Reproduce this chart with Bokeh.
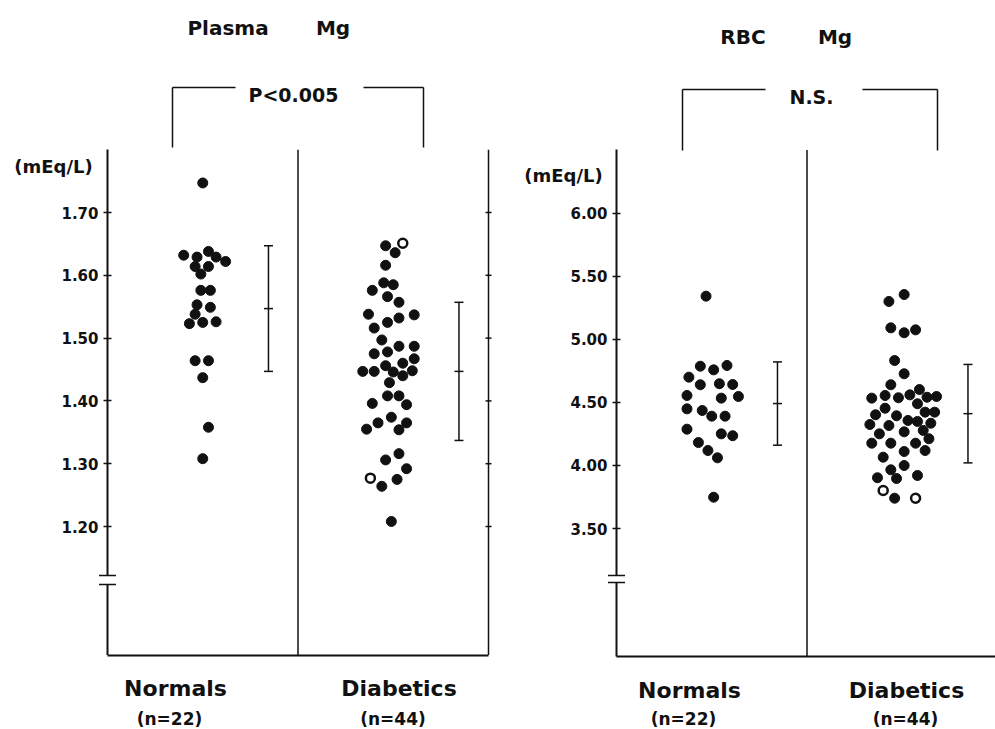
from bokeh.plotting import figure
from bokeh.models import (LinearAxis, FixedTicker, Range1d, NumeralTickFormatter,
                          CustomJSTickFormatter)
from bokeh.core.properties import value
from bokeh.layouts import row
from bokeh.embed import file_html
from bokeh.resources import INLINE

# ---------------- data ----------------
groups = ["Normals", "Diabetics"]
group_n = ["(n=22)", "(n=44)"]
unit_label = "(mEq/L)"
plasma_title = ["Plasma", "Mg"]
rbc_title = ["RBC", "Mg"]
plasma_p = "P<0.005"
rbc_p = "N.S."

plasma_ticks = [1.20, 1.30, 1.40, 1.50, 1.60, 1.70]
rbc_ticks = [3.50, 4.00, 4.50, 5.00, 5.50, 6.00]

plasma_normals = [1.747, 1.632, 1.638, 1.629, 1.629, 1.622, 1.614, 1.614, 1.602, 1.576, 1.576,
                  1.553, 1.549, 1.538, 1.523, 1.525, 1.526, 1.464, 1.464, 1.437, 1.358, 1.308]
plasma_normals_jitter = [0.00, -0.10, 0.03, -0.03, 0.07, 0.12, -0.04, 0.03, -0.01, -0.01, 0.04,
                         -0.03, 0.04, -0.04, -0.07, 0.00, 0.07, -0.04, 0.03, 0.00, 0.03, 0.00]
plasma_diabetics = [1.647, 1.651, 1.636, 1.616, 1.588, 1.585, 1.576, 1.566, 1.557, 1.538, 1.537,
                    1.532, 1.525, 1.516, 1.497, 1.487, 1.487, 1.475, 1.478, 1.467, 1.460, 1.456,
                    1.447, 1.447, 1.446, 1.440, 1.448, 1.429, 1.408, 1.408, 1.396, 1.394, 1.374,
                    1.365, 1.365, 1.355, 1.354, 1.316, 1.306, 1.292, 1.277, 1.264, 1.275, 1.208]
plasma_diabetics_jitter = [-0.04, 0.05, 0.01, -0.04, -0.05, 0.00, -0.11, -0.03, 0.03, -0.13, 0.11,
                           0.03, -0.03, -0.10, -0.06, 0.03, 0.11, -0.10, -0.03, 0.11, 0.05, -0.04,
                           -0.16, -0.10, 0.00, 0.05, 0.10, -0.02, -0.03, 0.03, -0.11, 0.07, -0.01,
                           -0.08, 0.07, -0.14, 0.03, 0.03, -0.04, 0.07, -0.12, -0.06, 0.02, -0.01]
plasma_diabetics_open = [1, 40]
plasma_mean = [1.547, 1.447]
plasma_sd = [0.100, 0.110]

rbc_normals = [5.341, 4.786, 4.757, 4.792, 4.699, 4.639, 4.647, 4.641, 4.554, 4.533, 4.546,
               4.448, 4.435, 4.390, 4.390, 4.287, 4.250, 4.235, 4.181, 4.118, 4.060, 3.748]
rbc_normals_jitter = [-0.03, -0.06, 0.01, 0.08, -0.12, -0.06, 0.04, 0.11, -0.13, 0.05, 0.14,
                      -0.13, -0.05, 0.00, 0.07, -0.13, 0.05, 0.11, -0.07, -0.02, 0.03, 0.01]
rbc_diabetics = [5.299, 5.354, 5.090, 5.051, 5.074, 4.831, 4.726, 4.639, 4.533, 4.554, 4.536,
                 4.559, 4.601, 4.540, 4.546, 4.488, 4.453, 4.401, 4.393, 4.422, 4.422, 4.324,
                 4.316, 4.356, 4.348, 4.334, 4.250, 4.266, 4.277, 4.176, 4.176, 4.176, 4.211,
                 4.110, 4.118, 4.065, 3.965, 3.999, 3.902, 3.896, 3.920, 3.801, 3.740, 3.740]
rbc_diabetics_jitter = [-0.07, 0.01, -0.06, 0.01, 0.07, -0.04, 0.01, -0.06, -0.16, -0.09, -0.02,
                        0.04, 0.09, 0.13, 0.18, 0.08, -0.09, -0.14, -0.03, 0.12, 0.17, -0.17,
                        -0.07, 0.03, 0.08, 0.15, -0.12, 0.01, 0.11, -0.16, -0.06, 0.07, 0.14,
                        0.01, 0.12, -0.10, -0.06, 0.01, -0.13, -0.03, 0.08, -0.10, -0.04, 0.07]
rbc_diabetics_open = [41, 43]
rbc_mean = [4.49, 4.41]
rbc_sd = [0.33, 0.39]

plasma_axis_top = 1.80
rbc_axis_top = 6.50

# ---------------- style / layout ----------------
INK = "#111111"
FONT = "DejaVu Sans"
H = 729
PX_X = 190.5          # px per x unit (one group = 1 unit)


def make_panel(cfg):
    X0, ref_v, ref_px, scale = cfg["X0"], cfg["ref_v"], cfg["ref_px"], cfg["scale"]
    left_px = cfg["left_px"]
    W = cfg["width"]

    def fx(X):   # page px -> data x
        return (X - X0) / PX_X

    def fy(Y):   # page px -> data y
        return ref_v + (ref_px - Y) / scale

    x_start, x_end = fx(left_px), fx(left_px + W)
    y_start, y_end = fy(H), fy(0)
    y_bot = fy(cfg["bottom_Y"])
    top = cfg["axis_top"]
    ticks = cfg["ticks"]

    p = figure(width=W, height=H, x_range=Range1d(x_start, x_end),
               y_range=Range1d(y_start, y_end), x_axis_type=None, y_axis_type=None,
               output_backend="svg", toolbar_location=None,
               min_border=0, min_border_left=0, min_border_right=0,
               min_border_top=0, min_border_bottom=0)
    p.outline_line_color = None
    p.background_fill_color = "white"
    p.border_fill_color = "white"

    # axis break geometry
    b_hi, b_lo = fy(cfg["brk"][0]), fy(cfg["brk"][1])

    # y axis (value scale) placed on the panel's left edge
    ya = LinearAxis(fixed_location=0, ticker=FixedTicker(ticks=ticks),
                    formatter=NumeralTickFormatter(format="0.00"),
                    bounds=(b_hi, top), axis_line_width=2, axis_line_color=INK,
                    major_tick_in=4, major_tick_out=4, major_tick_line_width=1.5,
                    major_tick_line_color=INK, minor_tick_line_color=None,
                    major_label_standoff=5, major_label_text_font=FONT,
                    major_label_text_font_style="bold", major_label_text_font_size="15px",
                    major_label_text_color=INK)
    p.add_layout(ya, "left")
    # lower part of the value axis, below the break
    p.segment(x0=[0], y0=[y_bot], x1=[0], y1=[b_lo], line_width=2, line_color=INK)
    hw = 8.5 / PX_X
    p.segment(x0=[-hw, -hw], y0=[b_hi, b_lo], x1=[hw, hw], y1=[b_hi, b_lo],
              line_width=1.5, line_color=INK)

    # group axis along the bottom
    gticks = [fx(X) for X in cfg["group_X"]]
    xa = LinearAxis(fixed_location=y_bot, ticker=FixedTicker(ticks=gticks),
                    formatter=CustomJSTickFormatter(args=dict(gpos=gticks, gnames=groups),
                                                    code="const i = gpos.indexOf(tick); return i < 0 ? '' : gnames[i];"),
                    bounds=(0, cfg["bottom_end"]), axis_line_width=2, axis_line_color=INK,
                    major_tick_in=0, major_tick_out=0, major_tick_line_color=None,
                    minor_tick_line_color=None, major_label_standoff=21,
                    major_label_text_font=FONT, major_label_text_font_style="bold",
                    major_label_text_font_size="22px", major_label_text_color=INK)
    p.add_layout(xa, "below")

    # right border with ticks (plasma panel only)
    if cfg["right_border"]:
        rb = 2.0
        tk = 3.0 / PX_X
        p.segment(x0=[rb], y0=[y_bot], x1=[rb], y1=[top], line_width=1.5, line_color=INK)
        p.segment(x0=[rb - tk] * len(ticks), y0=ticks, x1=[rb + tk] * len(ticks), y1=ticks,
                  line_width=1.5, line_color=INK)

    # divider between groups
    p.segment(x0=[1.0], y0=[y_bot], x1=[1.0], y1=[top], line_width=1.5, line_color=INK)

    # dots
    for gi, (vals, jit, opens) in enumerate([(cfg["normals"], cfg["normals_j"], []),
                                             (cfg["diabetics"], cfg["diabetics_j"], cfg["open"])]):
        xs = [gi + 0.5 + j for j in jit]
        xf = [x for k, x in enumerate(xs) if k not in opens]
        yf = [v for k, v in enumerate(vals) if k not in opens]
        p.scatter(xf, yf, size=10, fill_color=INK, line_color=INK)
        if opens:
            p.scatter([xs[k] for k in opens], [vals[k] for k in opens], size=9,
                      fill_color="white", line_color=INK, line_width=2.5)

    # mean +/- SD bars
    bx = [gi + 0.5 + 0.345 for gi in range(2)]
    m, s = cfg["mean"], cfg["sd"]
    cap = 4.5 / PX_X
    p.segment(x0=bx, y0=[a - b for a, b in zip(m, s)], x1=bx, y1=[a + b for a, b in zip(m, s)],
              line_width=1.5, line_color=INK)
    cx0, cx1, cy = [], [], []
    for xb, a, b in zip(bx, m, s):
        for yv in (a - b, a, a + b):
            cx0.append(xb - cap)
            cx1.append(xb + cap)
            cy.append(yv)
    p.segment(x0=cx0, y0=cy, x1=cx1, y1=cy, line_width=1.5, line_color=INK)

    # bracket with p label
    bl, br = fx(cfg["br_left"]), fx(cfg["br_right"])
    gl, gr = fx(cfg["gap"][0]), fx(cfg["gap"][1])
    by, bb = fy(cfg["br_Y"]), fy(cfg["br_bottom"])
    p.segment(x0=[bl, gr, bl, br], y0=[by, by, by, by], x1=[gl, br, bl, br], y1=[by, by, bb, bb],
              line_width=1.5, line_color=INK)
    p.text(x=[fx(cfg["p_X"])], y=[fy(cfg["p_Y"])], text=[cfg["p_text"]],
           text_font=value(FONT), text_font_style="bold", text_font_size="19px",
           text_align="center", text_baseline="alphabetic", text_color=INK)

    # title words
    p.text(x=[fx(X) for X in cfg["title_X"]], y=[fy(cfg["title_Y"])] * 2, text=cfg["title"],
           text_font=value(FONT), text_font_style="bold", text_font_size="20px",
           text_align="center", text_baseline="alphabetic", text_color=INK)

    # unit label
    p.text(x=[fx(cfg["unit_X"])], y=[fy(cfg["unit_Y"])], text=[unit_label],
           text_font=value(FONT), text_font_style="bold", text_font_size="18px",
           text_align="center", text_baseline="alphabetic", text_color=INK)

    # group sizes
    p.text(x=[fx(X) for X in cfg["n_X"]], y=[fy(718)] * 2, text=group_n,
           text_font=value(FONT), text_font_style="bold", text_font_size="17px",
           text_align="center", text_baseline="alphabetic", text_color=INK)
    return p


left_cfg = dict(
    width=497, left_px=0, X0=107, ref_v=1.70, ref_px=212, scale=628, bottom_Y=654.5,
    bottom_end=2.0, ticks=plasma_ticks, axis_top=plasma_axis_top, right_border=True,
    normals=plasma_normals, normals_j=plasma_normals_jitter,
    diabetics=plasma_diabetics, diabetics_j=plasma_diabetics_jitter, open=plasma_diabetics_open,
    mean=plasma_mean, sd=plasma_sd,
    br_left=172, br_right=423, gap=(235, 363), br_Y=87, br_bottom=147,
    p_X=293, p_Y=94, p_text=plasma_p,
    title=plasma_title, title_X=[227.5, 332.5], title_Y=27,
    unit_X=53, unit_Y=166, group_X=[175, 398.5], n_X=[169, 392.5], brk=(575, 584),
)

right_cfg = dict(
    width=498, left_px=497, X0=616, ref_v=6.00, ref_px=212.5, scale=126.2, bottom_Y=656,
    bottom_end=(995 - 616) / PX_X, ticks=rbc_ticks, axis_top=rbc_axis_top, right_border=False,
    normals=rbc_normals, normals_j=rbc_normals_jitter,
    diabetics=rbc_diabetics, diabetics_j=rbc_diabetics_jitter, open=rbc_diabetics_open,
    mean=rbc_mean, sd=rbc_sd,
    br_left=682, br_right=937, gap=(765, 862), br_Y=89, br_bottom=150,
    p_X=811, p_Y=96, p_text=rbc_p,
    title=rbc_title, title_X=[742.5, 834.5], title_Y=36,
    unit_X=563, unit_Y=175, group_X=[689, 906], n_X=[683, 905], brk=(575, 582),
)

left = make_panel(left_cfg)
right = make_panel(right_cfg)
layout = row(left, right, spacing=0)

open("out.html", "w").write(file_html(layout, INLINE))
